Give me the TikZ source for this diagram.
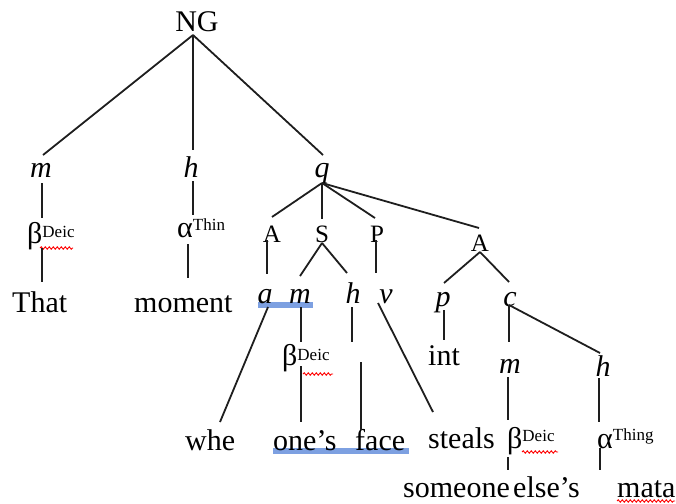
\documentclass[tikz,border=0pt]{standalone}
\usepackage{fontspec}
\setmainfont{Liberation Serif}
\usetikzlibrary{decorations.pathmorphing}
\newcommand\mainf{\fontsize{30}{30}\selectfont}
\newcommand\catf{\fontsize{25}{25}\selectfont}
\newcommand\supt[2][4pt]{\raisebox{#1}{\fontsize{17}{17}\selectfont #2}}
\definecolor{hlblue}{RGB}{125,160,225}
\tikzset{
  lbl/.style={anchor=base, inner sep=0pt, font=\mainf},
  lblw/.style={anchor=base west, inner sep=0pt, font=\mainf},
  ital/.style={anchor=base, inner sep=0pt, font={\mainf\itshape}},
  cat/.style={anchor=base, inner sep=0pt, font=\catf},
  br/.style={line width=1.8pt, draw={rgb,255:red,30;green,30;blue,30}},
  hl/.style={line width=6pt, draw=hlblue},
  squig/.style={draw=red, line width=0.9pt, decorate, decoration={snake, amplitude=1.2pt, segment length=4pt}}
}
\begin{document}
\begin{tikzpicture}[x=1pt,y=-1pt]
\useasboundingbox (0,0) rectangle (676,503);
% highlights
\draw[hl] (258,305) -- (313,305);
\draw[hl] (273,451) -- (409,451);
% nodes
\node[lbl] (NG) at (197,32) {NG};
\node[ital] (m1) at (41,177) {m};
\node[ital] (h1) at (191,177) {h};
\node[ital] (q) at (322,177) {q};
\node[lblw] (b1) at (27,243) {β\supt[6pt]{Deic}};
\node[lblw] (a1) at (177,237) {α\supt[7pt]{Thin}};
\node[lblw] (That) at (12,312) {That};
\node[lblw] (moment) at (134,312) {moment};
\node[cat] (A1) at (272,242) {A};
\node[cat] (S) at (322,242) {S};
\node[cat] (P) at (377,242) {P};
\node[cat] (A2) at (480,251) {A};
\node[ital] (a) at (265,303) {a};
\node[ital] (m2) at (300,303) {m};
\node[ital] (h2) at (353,303) {h};
\node[ital] (v) at (386,303) {v};
\node[ital] (p) at (443,306) {p};
\node[ital] (c) at (510,306) {c};
\node[lblw] (b2) at (282,365) {β\supt[5pt]{Deic}};
\node[lbl] (int) at (444,365) {int};
\node[ital] (m3) at (510,373) {m};
\node[ital] (h3) at (603,376) {h};
\node[lblw] (whe) at (185,450) {whe};
\node[lblw] (ones) at (273,450) {one’s};
\node[lblw] (face) at (355,450) {face};
\node[lblw] (steals) at (428,448) {steals};
\node[lblw] (b3) at (507,448) {β\supt[7pt]{Deic}};
\node[lblw] (a3) at (597,448) {α\supt[8pt]{Thing}};
\node[lblw] (someone) at (403,497) {someone};
\node[lblw] (else) at (513,497) {else’s};
\node[lblw] (mata) at (617,497) {mata};
% squiggly underlines
\draw[squig] (40,248) -- (73,248);
\draw[squig] (303,374) -- (333,374);
\draw[squig] (522,452) -- (558,452);
\draw[squig] (617,501) -- (675,501);
% connector end points
\coordinate (NG-s) at (193,35);
\coordinate (m1-n) at (43,155);
\coordinate (h1-n) at (193,150);
\coordinate (q-n) at (323,155);
\coordinate (m1-s) at (42,183);
\coordinate (b1-n) at (42,218);
\coordinate (b1-s) at (42,248);
\coordinate (That-n) at (42,282);
\coordinate (h1-s) at (193,181);
\coordinate (a1-n) at (193,215);
\coordinate (a1-s) at (188,244);
\coordinate (moment-n) at (188,278);
\coordinate (q-s) at (322,183);
\coordinate (A1-n) at (272,217);
\coordinate (S-n) at (322,219);
\coordinate (P-n) at (375,218);
\coordinate (A2-n) at (479,228);
\coordinate (A1-s) at (267,240);
\coordinate (a-n) at (267,274);
\coordinate (S-s) at (322,243);
\coordinate (m2-n) at (300,276);
\coordinate (h2-n) at (347,273);
\coordinate (P-s) at (376,240);
\coordinate (v-n) at (376,273);
\coordinate (A2-s) at (480,252);
\coordinate (p-n) at (444,283);
\coordinate (c-n) at (509,282);
\coordinate (a-s) at (268,307);
\coordinate (whe-n) at (220,422);
\coordinate (m2-s) at (301,307);
\coordinate (b2-n) at (301,342);
\coordinate (b2-s) at (301,366);
\coordinate (ones-n) at (301,422);
\coordinate (h2-s) at (352,307);
\coordinate (h2-e) at (352,342);
\coordinate (face-t) at (361,362);
\coordinate (face-n) at (361,430);
\coordinate (v-s) at (378,303);
\coordinate (steals-n) at (433,412);
\coordinate (p-s) at (444,310);
\coordinate (int-n) at (444,340);
\coordinate (c-s) at (509,305);
\coordinate (m3-n) at (509,342);
\coordinate (h3-n) at (600,353);
\coordinate (m3-s) at (508,377);
\coordinate (b3-n) at (508,420);
\coordinate (b3-s) at (508,457);
\coordinate (someone-n) at (508,470);
\coordinate (h3-s) at (599,378);
\coordinate (a3-n) at (599,422);
\coordinate (a3-s) at (600,448);
\coordinate (mata-n) at (600,470);
% connectors
\draw[br] (NG-s) -- (m1-n);
\draw[br] (NG-s) -- (h1-n);
\draw[br] (NG-s) -- (q-n);
\draw[br] (m1-s) -- (b1-n);
\draw[br] (b1-s) -- (That-n);
\draw[br] (h1-s) -- (a1-n);
\draw[br] (a1-s) -- (moment-n);
\draw[br] (q-s) -- (A1-n);
\draw[br] (q-s) -- (S-n);
\draw[br] (q-s) -- (P-n);
\draw[br] (q-s) -- (A2-n);
\draw[br] (A1-s) -- (a-n);
\draw[br] (S-s) -- (m2-n);
\draw[br] (S-s) -- (h2-n);
\draw[br] (P-s) -- (v-n);
\draw[br] (A2-s) -- (p-n);
\draw[br] (A2-s) -- (c-n);
\draw[br] (a-s) -- (whe-n);
\draw[br] (m2-s) -- (b2-n);
\draw[br] (b2-s) -- (ones-n);
\draw[br] (h2-s) -- (h2-e);
\draw[br] (face-t) -- (face-n);
\draw[br] (v-s) -- (steals-n);
\draw[br] (p-s) -- (int-n);
\draw[br] (c-s) -- (m3-n);
\draw[br] (c-s) -- (h3-n);
\draw[br] (m3-s) -- (b3-n);
\draw[br] (b3-s) -- (someone-n);
\draw[br] (h3-s) -- (a3-n);
\draw[br] (a3-s) -- (mata-n);
\end{tikzpicture}
\end{document}
